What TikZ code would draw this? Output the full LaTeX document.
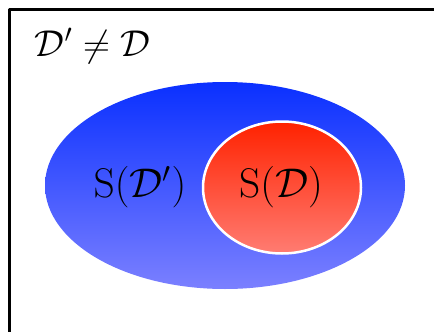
\documentclass[tikz,border=0pt]{standalone}
\usepackage{amsmath,amsfonts,amssymb,graphicx}
\usepackage{tikz}
\definecolor{bigtop}{RGB}{10,48,255}
\definecolor{bigbot}{RGB}{123,128,255}
\definecolor{smalltop}{RGB}{255,34,0}
\definecolor{smallbot}{RGB}{255,124,114}

\begin{document}
\begin{tikzpicture}[x=0.5pt,y=-0.5pt, line join=round, line cap=round]
			\useasboundingbox (0,0) rectangle (434,332);
			\clip (0,0) rectangle (434,332);
			\coordinate (O) at (9.5,9.5);
			\coordinate (E) at (520,420);
			\coordinate (B) at (225,185.5);
			\coordinate (R) at (282,187.5);
			\draw[line width=1.5pt] (O) rectangle (E);
			\shade[top color=bigtop, bottom color=bigbot] (B) ellipse [x radius=180, y radius=103.5];
			\shade[top color=smalltop, bottom color=smallbot] (R) ellipse [x radius=79, y radius=66];
			\draw[white, line width=1.25pt] (R) ellipse [x radius=79, y radius=66];
			\node[font=\LARGE] (cond) at (92.5,46) {\scalebox{1.08}{$\mathcal{D}'\neq\mathcal{D}$}};
			\node[font=\huge] (big) at (140,187) {$\mathrm{S}(\mathcal{D}')$};
			\node[font=\huge] (small) at (281,187) {$\mathrm{S}(\mathcal{D})$};
		\end{tikzpicture}
\end{document}
